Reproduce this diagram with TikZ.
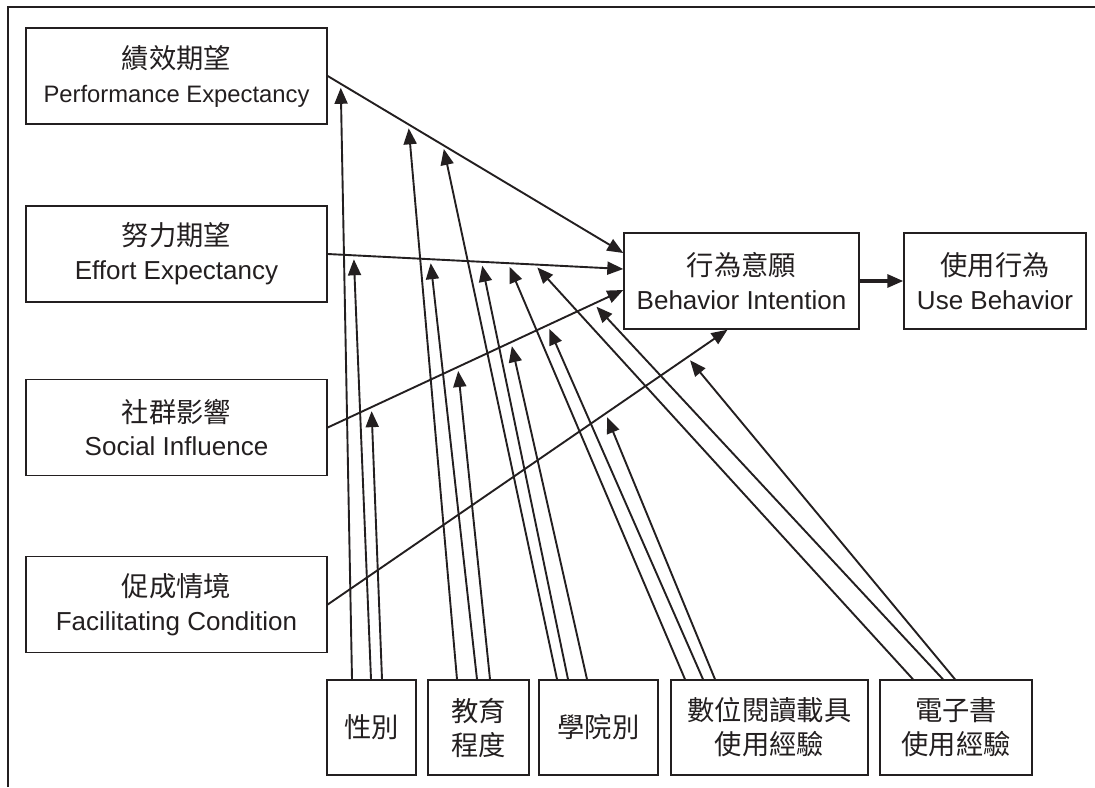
\documentclass[tikz,border=0pt]{standalone}
\usepackage{fontspec}
\setmainfont{Liberation Sans}
\newfontfamily\cjk{Noto Sans CJK TC}[Scale=1.05]
\usetikzlibrary{arrows.meta}
\definecolor{ink}{RGB}{35,31,32}
\tikzset{
    varbox/.style={draw=ink,line width=0.7pt,inner sep=0pt,align=center,text=ink,
        font=\fontsize{13}{17}\selectfont},
    ivbox/.style={varbox,minimum width=150.5pt,minimum height=48pt},
    modbox/.style={varbox,minimum height=47.5pt},
    patharr/.style={draw=ink,line width=0.95pt,-{Triangle[length=8pt,width=6.5pt]}},
    modarr/.style={patharr,shorten >=2pt}
}
\begin{document}
\begin{tikzpicture}[x=0.5pt,y=-0.5pt]
    \useasboundingbox (0,0) rectangle (1095,787);
    %% frame
    \draw[ink,line width=0.9pt] (8,787) -- (8,7) -- (1095,7);
    %% independent variables
    \node[ivbox] (pe) at (176.5,76) {{\cjk 績效期望}\\{\fontsize{11.9}{17}\selectfont Performance Expectancy}};
    \node[ivbox] (ee) at (176.5,254) {{\cjk 努力期望}\\Effort Expectancy};
    \node[ivbox] (si) at (176.5,427.5) {{\cjk 社群影響}\\Social Influence};
    \node[ivbox] (fc) at (176.5,604.5) {{\cjk 促成情境}\\Facilitating Condition};
    %% dependent variables
    \node[varbox,minimum width=117.5pt,minimum height=48pt] (bi) at (741.5,281) {{\cjk 行為意願}\\Behavior Intention};
    \node[varbox,minimum width=91pt,minimum height=48pt] (ub) at (995,281) {{\cjk 使用行為}\\Use Behavior};
    %% moderators
    \node[modbox,minimum width=44.5pt] (gen) at (371.5,727.5) {\cjk 性別};
    \node[modbox,minimum width=50.5pt] (edu) at (478.5,727.5) {\cjk 教育\\\cjk 程度};
    \node[modbox,minimum width=59.5pt] (col) at (598.5,727.5) {\cjk 學院別};
    \node[modbox,minimum width=98.5pt] (dev) at (769.5,727.5) {\cjk 數位閱讀載具\\\cjk 使用經驗};
    \node[modbox,minimum width=76pt] (ebk) at (956,727.5) {\cjk 電子書\\\cjk 使用經驗};
    %% main paths
    \draw[patharr] (pe.east) -- ([yshift=14pt]bi.west)
        coordinate[pos=0.044] (pe1) coordinate[pos=0.273] (pe2) coordinate[pos=0.39] (pe3);
    \draw[patharr] (ee.east) -- ([yshift=6pt]bi.west)
        coordinate[pos=0.088] (ee1) coordinate[pos=0.347] (ee2) coordinate[pos=0.52] (ee3)
        coordinate[pos=0.61] (ee4) coordinate[pos=0.70] (ee5);
    \draw[patharr] (si.east) -- ([yshift=-4.5pt]bi.west)
        coordinate[pos=0.148] (si1) coordinate[pos=0.44] (si2) coordinate[pos=0.62] (si3)
        coordinate[pos=0.744] (si4) coordinate[pos=0.90] (si5);
    \draw[patharr] (fc.east) -- ([xshift=-7pt]bi.south)
        coordinate[pos=0.695] (fc1) coordinate[pos=0.90] (fc2);
    \draw[patharr,line width=1.6pt] (bi) -- (ub);
    %% moderating effects
    \foreach \m/\dx/\t in {gen/-9.75/pe1, gen/-0.25/ee1, gen/5.25/si1,
                           edu/-10.75/pe2, edu/-0.75/ee2, edu/5.75/si2,
                           col/-20.75/pe3, col/-15.25/ee3, col/-5.75/si3,
                           dev/-42.25/ee4, dev/-33.25/si4, dev/-27.25/fc1,
                           ebk/-21.5/ee5, ebk/-6.5/si5, ebk/-0.5/fc2}
        \draw[modarr] ([xshift=\dx pt]\m.north) -- (\t);
\end{tikzpicture}
\end{document}
